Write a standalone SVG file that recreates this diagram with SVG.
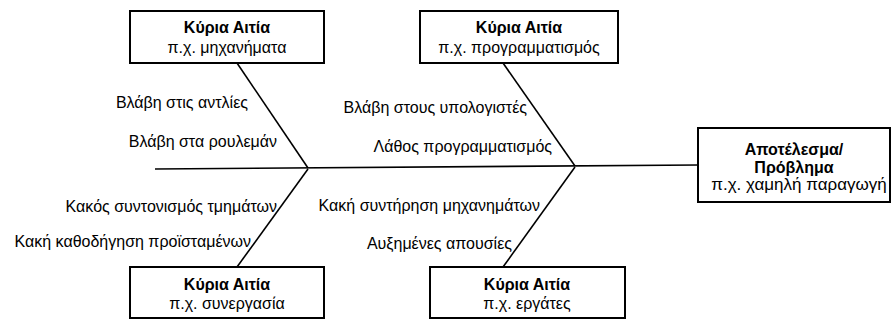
<svg xmlns="http://www.w3.org/2000/svg" width="892" height="320" viewBox="0 0 892 320">
<style>
.box{fill:#fff;stroke:#000;stroke-width:2}
.bone{stroke:#000;stroke-width:1.6;fill:none}
text{font-family:"Liberation Sans",Arial,sans-serif;fill:#000}
.t{font-size:16px;text-anchor:middle}
.b{font-weight:bold}
.l{font-size:16px;text-anchor:end}
</style>
<rect width="892" height="320" fill="#fff"/>
<g id="connectors">
<line class="bone" x1="155" y1="169" x2="698" y2="165"/>
<line class="bone" x1="237" y1="63" x2="308" y2="168"/>
<line class="bone" x1="308" y1="169" x2="237" y2="267"/>
<line class="bone" x1="503" y1="63" x2="575" y2="166"/>
<line class="bone" x1="575" y1="167" x2="503" y2="267"/>
</g>
<g id="cause-machines">
<rect class="box" x="130" y="11" width="194" height="52"/>
<text class="t b" x="227" y="33">Κύρια Αιτία</text>
<text class="t" x="227" y="53">π.χ. μηχανήματα</text>
</g>
<g id="cause-programming">
<rect class="box" x="420" y="11" width="198" height="52"/>
<text class="t b" x="519" y="33">Κύρια Αιτία</text>
<text class="t" x="519" y="53">π.χ. προγραμματισμός</text>
</g>
<g id="cause-cooperation">
<rect class="box" x="130" y="267" width="194" height="51"/>
<text class="t b" x="227" y="290">Κύρια Αιτία</text>
<text class="t" x="227" y="309">π.χ. συνεργασία</text>
</g>
<g id="cause-workers">
<rect class="box" x="430" y="267" width="195" height="51"/>
<text class="t b" x="527" y="290">Κύρια Αιτία</text>
<text class="t" x="527" y="309">π.χ. εργάτες</text>
</g>
<g id="effect">
<rect class="box" x="698" y="128" width="192" height="74"/>
<text class="t b" x="794" y="155">Αποτέλεσμα/</text>
<text class="t b" x="794" y="173">Πρόβλημα</text>
<text class="t" x="799" y="190" style="font-size:17px">π.χ. χαμηλή παραγωγή</text>
</g>
<g id="labels">
<text class="l" x="248" y="108">Βλάβη στις αντλίες</text>
<text class="l" x="277" y="147">Βλάβη στα ρουλεμάν</text>
<text class="l" x="527" y="113">Βλάβη στους υπολογιστές</text>
<text class="l" x="552" y="152">Λάθος προγραμματισμός</text>
<text class="l" x="277" y="212">Κακός συντονισμός τμημάτων</text>
<text class="l" x="251" y="247">Κακή καθοδήγηση προϊσταμένων</text>
<text class="l" x="540" y="211">Κακή συντήρηση μηχανημάτων</text>
<text class="l" x="512" y="249">Αυξημένες απουσίες</text>
</g>
</svg>
